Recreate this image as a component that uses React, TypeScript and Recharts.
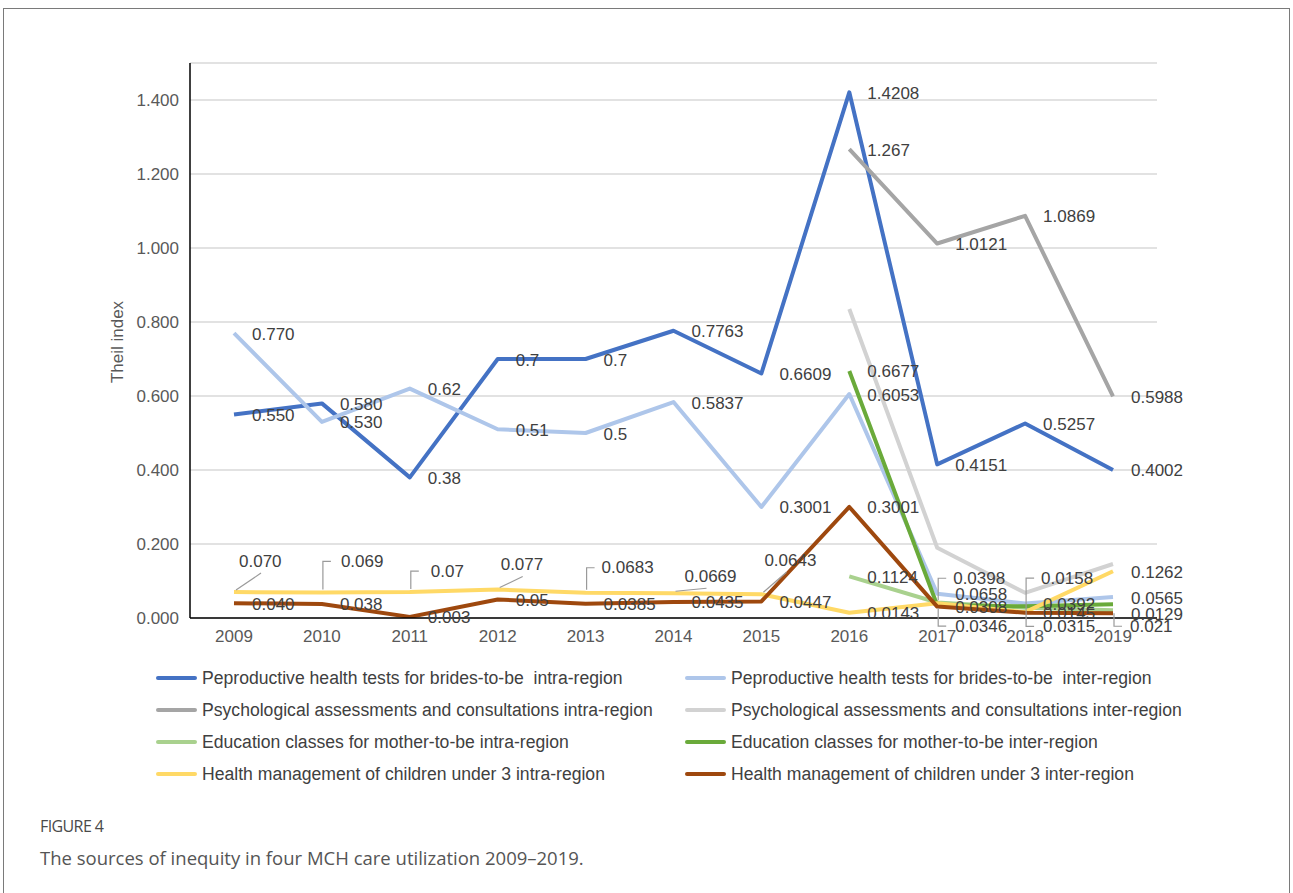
import React from 'react';
import { LineChart, Line, XAxis, YAxis, CartesianGrid, LabelList } from 'recharts';

const years = ['2009', '2010', '2011', '2012', '2013', '2014', '2015', '2016', '2017', '2018', '2019'];
const yTicks = [0, 0.2, 0.4, 0.6, 0.8, 1.0, 1.2, 1.4];

const reproIntra = [0.55, 0.58, 0.38, 0.7, 0.7, 0.7763, 0.6609, 1.4208, 0.4151, 0.5257, 0.4002];
const reproIntraLabels = ['0.550', '0.580', '0.38', '0.7', '0.7', '0.7763', '0.6609', '1.4208', '0.4151', '0.5257', '0.4002'];

const reproInter = [0.77, 0.53, 0.62, 0.51, 0.5, 0.5837, 0.3001, 0.6053, 0.0658, 0.0392, 0.0565];
const reproInterLabels = ['0.770', '0.530', '0.62', '0.51', '0.5', '0.5837', '0.3001', '0.6053', '0.0658', '0.0392', '0.0565'];

const psychIntra = [null, null, null, null, null, null, null, 1.267, 1.0121, 1.0869, 0.5988];
const psychIntraLabels = [null, null, null, null, null, null, null, '1.267', '1.0121', '1.0869', '0.5988'];

const psychInter = [null, null, null, null, null, null, null, 0.835, 0.19, 0.068, 0.146];
const psychInterLabels = [null, null, null, null, null, null, null, null, null, null, null];

const eduIntra = [null, null, null, null, null, null, null, 0.1124, 0.042, 0.028, 0.021];
const eduIntraLabels = [null, null, null, null, null, null, null, '0.1124', null, null, '0.021'];

const eduInter = [null, null, null, null, null, null, null, 0.6677, 0.0346, 0.0315, 0.037];
const eduInterLabels = [null, null, null, null, null, null, null, '0.6677', '0.0346', '0.0315', null];

const childIntra = [0.07, 0.069, 0.07, 0.077, 0.0683, 0.0669, 0.0643, 0.0143, 0.0398, 0.0158, 0.1262];
const childIntraLabels = ['0.070', '0.069', '0.07', '0.077', '0.0683', '0.0669', '0.0643', '0.0143', '0.0398', '0.0158', '0.1262'];

const childInter = [0.04, 0.038, 0.003, 0.05, 0.0385, 0.0435, 0.0447, 0.3001, 0.0308, 0.0145, 0.0129];
const childInterLabels = ['0.040', '0.038', '0.003', '0.05', '0.0385', '0.0435', '0.0447', '0.3001', '0.0308', '0.0145', '0.0129'];

type Series = { key: string; name: string; color: string; values: (number | null)[]; labels: (string | null)[] };

const seriesList: Series[] = [
  { key: 'reproIntra', name: 'Peproductive health tests for brides-to-be  intra-region', color: '#4472C4', values: reproIntra, labels: reproIntraLabels },
  { key: 'reproInter', name: 'Peproductive health tests for brides-to-be  inter-region', color: '#AEC6EA', values: reproInter, labels: reproInterLabels },
  { key: 'psychIntra', name: 'Psychological assessments and consultations intra-region', color: '#A5A5A5', values: psychIntra, labels: psychIntraLabels },
  { key: 'psychInter', name: 'Psychological assessments and consultations inter-region', color: '#D2D2D2', values: psychInter, labels: psychInterLabels },
  { key: 'eduIntra', name: 'Education classes for mother-to-be intra-region', color: '#A9D18E', values: eduIntra, labels: eduIntraLabels },
  { key: 'eduInter', name: 'Education classes for mother-to-be inter-region', color: '#6AAA3A', values: eduInter, labels: eduInterLabels },
  { key: 'childIntra', name: 'Health management of children under 3 intra-region', color: '#FFD966', values: childIntra, labels: childIntraLabels },
  { key: 'childInter', name: 'Health management of children under 3 inter-region', color: '#9E480E', values: childInter, labels: childInterLabels },
];

const data = years.map((year, i) => {
  const row: Record<string, any> = { year };
  seriesList.forEach((s) => {
    row[s.key] = s.values[i];
  });
  return row;
});

type Callout = { dx: number; dy: number; leader?: 'bracket' | 'diag' };
const callouts: Record<string, Callout> = {
  'childIntra-0': { dx: 5, dy: -31, leader: 'diag' },
  'childIntra-1': { dx: 19, dy: -31, leader: 'bracket' },
  'childIntra-2': { dx: 21, dy: -21, leader: 'bracket' },
  'childIntra-3': { dx: 3, dy: -25, leader: 'diag' },
  'childIntra-4': { dx: 16, dy: -25, leader: 'bracket' },
  'childIntra-5': { dx: 11, dy: -17, leader: 'diag' },
  'childIntra-6': { dx: 3, dy: -34, leader: 'diag' },
  'childIntra-8': { dx: 16, dy: -25, leader: 'bracket' },
  'childIntra-9': { dx: 16, dy: -34, leader: 'bracket' },
  'eduInter-8': { dx: 18, dy: 21, leader: 'bracket' },
  'eduInter-9': { dx: 18, dy: 20, leader: 'bracket' },
  'eduIntra-10': { dx: 17, dy: 16, leader: 'bracket' },
};

const LABEL_FONT = '"Liberation Sans", Arial, Helvetica, sans-serif';

const makeLabel = (s: Series) => (props: any) => {
  const { x, y, index } = props;
  const text = s.labels[index];
  if (text == null || x == null || y == null || isNaN(x) || isNaN(y)) return null;
  const c = callouts[`${s.key}-${index}`] ?? { dx: 18, dy: 1 };
  const tx = x + c.dx;
  const ty = y + c.dy;
  let leader: React.ReactNode = null;
  if (c.leader === 'bracket') {
    const startY = c.dy < 0 ? y - 3 : y + 3;
    leader = <path d={`M${x + 1},${startY} V${ty} H${x + 9}`} stroke="#9a9a9a" strokeWidth={1.2} fill="none" />;
  } else if (c.leader === 'diag') {
    leader = <line x1={x + 2} y1={y - 2} x2={tx + 22} y2={ty + 12} stroke="#9a9a9a" strokeWidth={1.2} />;
  }
  return (
    <g>
      {leader}
      <text x={tx} y={ty} dominantBaseline="central" fill="#404040" fontSize={17} fontFamily={LABEL_FONT}>
        {text}
      </text>
    </g>
  );
};

export default function App() {
  const legendRows: Series[][] = [];
  for (let i = 0; i < seriesList.length; i += 2) legendRows.push([seriesList[i], seriesList[i + 1]]);

  return (
    <div style={{ position: 'absolute', left: 0, top: 0, width: 1293, height: 893, background: '#fff', overflow: 'hidden' }}>
      <div
        style={{
          position: 'absolute',
          left: 3,
          top: 8,
          width: 1287,
          height: 900,
          border: '1px solid #7a7a7a',
          boxSizing: 'border-box',
        }}
      />
      <div style={{ position: 'absolute', left: 0, top: 0 }}>
        <LineChart width={1293} height={660} data={data} margin={{ top: 63, right: 136, bottom: 12, left: 130 }}>
          <CartesianGrid vertical={false} stroke="#d9d9d9" strokeWidth={1.5} />
          <XAxis
            dataKey="year"
            axisLine={{ stroke: '#000', strokeWidth: 1.5 }}
            tickLine={false}
            tickSize={0}
            tickMargin={12}
            height={30}
            padding={{ left: 44, right: 44 }}
            tick={{ fill: '#595959', fontSize: 17, fontFamily: LABEL_FONT }}
            interval={0}
          />
          <YAxis
            domain={[0, 1.5]}
            ticks={yTicks}
            width={60}
            axisLine={{ stroke: '#000', strokeWidth: 1.5 }}
            tickLine={false}
            tickSize={0}
            tickMargin={11}
            tickFormatter={(v: number) => v.toFixed(3)}
            tick={{ fill: '#595959', fontSize: 17, fontFamily: LABEL_FONT }}
            allowDataOverflow
          />
          {seriesList.map((s) => (
            <Line
              key={s.key}
              dataKey={s.key}
              name={s.name}
              type="linear"
              stroke={s.color}
              strokeWidth={4}
              strokeLinejoin="round"
              dot={false}
              activeDot={false}
              connectNulls={false}
              isAnimationActive={false}
            >
              <LabelList dataKey={s.key} content={makeLabel(s)} />
            </Line>
          ))}
        </LineChart>
      </div>
      <div
        style={{
          position: 'absolute',
          left: 118,
          top: 342,
          transform: 'translate(-50%, -50%) rotate(-90deg)',
          whiteSpace: 'nowrap',
          fontFamily: LABEL_FONT,
          fontSize: 17,
          color: '#595959',
        }}
      >
        Theil index
      </div>
      {legendRows.map((row, r) => (
        <React.Fragment key={r}>
          {row.map((s, c) => (
            <div
              key={s.key}
              style={{
                position: 'absolute',
                left: c === 0 ? 156 : 685,
                top: 678 + r * 32 - 12,
                height: 24,
                display: 'flex',
                alignItems: 'center',
                fontFamily: LABEL_FONT,
                fontSize: 17.6,
                color: '#404040',
                whiteSpace: 'pre',
              }}
            >
              <span style={{ display: 'inline-block', width: 41, height: 4, borderRadius: 2, background: s.color, marginRight: 5 }} />
              <span>{s.name}</span>
            </div>
          ))}
        </React.Fragment>
      ))}
      <div
        style={{
          position: 'absolute',
          left: 40,
          top: 815,
          fontFamily: '"Open Sans", sans-serif',
          fontSize: 16,
          color: '#4a4a4a',
          letterSpacing: -0.6,
        }}
      >
        FIGURE 4
      </div>
      <div
        style={{
          position: 'absolute',
          left: 40,
          top: 845,
          fontFamily: '"Open Sans", sans-serif',
          fontSize: 18.5,
          color: '#555',
          whiteSpace: 'nowrap',
        }}
      >
        The sources of inequity in four MCH care utilization 2009–2019.
      </div>
    </div>
  );
}
